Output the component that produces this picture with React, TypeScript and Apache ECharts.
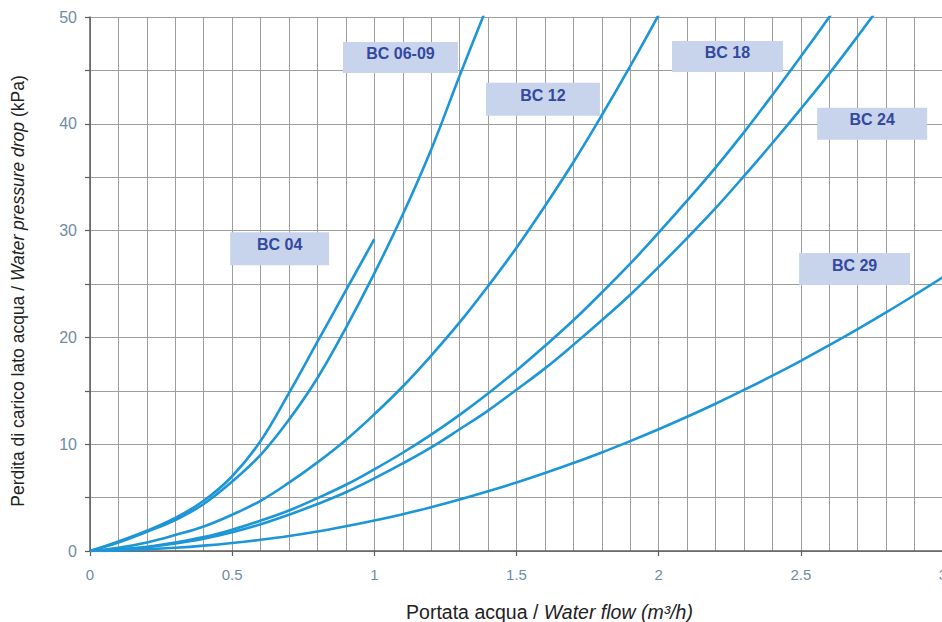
import React, { useEffect, useRef } from "react";
import * as echarts from "echarts";

// Water flow steps (m³/h) shared by every curve
const flowSteps = [
  0, 0.1, 0.2, 0.3, 0.4, 0.5, 0.6, 0.7, 0.8, 0.9, 1.0, 1.1, 1.2, 1.3, 1.4, 1.5,
  1.6, 1.7, 1.8, 1.9, 2.0, 2.1, 2.2, 2.3, 2.4, 2.5, 2.6, 2.7, 2.8, 2.9, 3.0,
];

// Pressure drop (kPa) for each unit, one value per flow step
const bc04 = [0, 0.9, 1.9, 3.1, 4.7, 7.0, 10.3, 14.8, 19.6, 24.4, 29.2];
const bc0609 = [0, 0.8, 1.8, 2.9, 4.4, 6.5, 9.0, 12.3, 16.2, 20.9, 26.0, 31.5, 37.6, 44.5, 51.2];
const bc12 = [
  0, 0.3, 0.8, 1.5, 2.3, 3.4, 4.7, 6.4, 8.3, 10.4, 12.8, 15.4, 18.3, 21.4, 24.8,
  28.4, 32.3, 36.4, 40.8, 45.4, 50.2, 55.3,
];
const bc18 = [
  0, 0.15, 0.4, 0.8, 1.3, 2.0, 2.85, 3.8, 4.95, 6.2, 7.65, 9.2, 10.9, 12.75, 14.75,
  16.9, 19.2, 21.6, 24.2, 26.9, 29.8, 32.8, 35.9, 39.2, 42.7, 46.3, 50.0, 53.9,
];
const bc24 = [
  0, 0.12, 0.35, 0.7, 1.15, 1.75, 2.5, 3.4, 4.4, 5.5, 6.8, 8.2, 9.7, 11.4, 13.15,
  15.1, 17.1, 19.3, 21.6, 24.0, 26.6, 29.3, 32.1, 35.1, 38.2, 41.4, 44.7, 48.2, 51.8,
];
const bc29 = [
  0, 0.05, 0.15, 0.3, 0.5, 0.75, 1.05, 1.4, 1.82, 2.31, 2.85, 3.45, 4.1, 4.82, 5.59,
  6.41, 7.3, 8.24, 9.23, 10.29, 11.4, 12.57, 13.79, 15.08, 16.42, 17.81, 19.27, 20.78,
  22.34, 23.97, 25.65,
];

const curveNames = ["BC 04", "BC 06-09", "BC 12", "BC 18", "BC 24", "BC 29"];
const curveValues = [bc04, bc0609, bc12, bc18, bc24, bc29];

// Tag anchors in data units: [flow, pressure drop]
const tagFlow = [0.667, 1.092, 1.593, 2.242, 2.751, 2.689];
const tagDrop = [28.3, 46.2, 42.3, 46.3, 40.0, 26.4];

const FONT = "'Liberation Sans', Arial, Helvetica, sans-serif";
const LINE_BLUE = "#1c96d6";
const GRID_GRAY = "#9d9d9d";
const AXIS_GRAY = "#5c5c5c";
const TICK_LABEL = "#6f8ca3";

export default function App() {
  const ref = useRef<HTMLDivElement>(null);

  useEffect(() => {
    if (!ref.current) return;
    const chart = echarts.init(ref.current, null, { renderer: "svg" });

    const lineSeries = curveNames.map((name, i) => ({
      name,
      type: "line",
      z: 3,
      smooth: 0.4,
      symbol: "none",
      clip: true,
      lineStyle: { color: LINE_BLUE, width: 2.6 },
      data: curveValues[i].map((v, k) => [flowSteps[k], v]),
    }));

    const tagSizes = [
      [99, 33],
      [115, 31],
      [114, 33],
      [111, 31],
      [110, 32],
      [111, 32],
    ];

    const tagSeries = {
      type: "scatter",
      z: 1,
      silent: true,
      symbol: "rect",
      data: curveNames.map((name, i) => ({
        name,
        value: [tagFlow[i], tagDrop[i]],
        symbolSize: tagSizes[i],
      })),
      itemStyle: { color: "#c8d4ec", opacity: 1 },
      label: {
        show: true,
        position: "inside",
        formatter: (p: any) => p.name,
        color: "#34489e",
        fontFamily: FONT,
        fontWeight: "bold",
        fontSize: 16,
        offset: [0, -4],
      },
    };

    chart.setOption({
      animation: false,
      backgroundColor: "#ffffff",
      grid: {
        left: 90,
        right: -1,
        top: 17,
        bottom: 71,
        containLabel: false,
        outerBoundsMode: "none",
      },
      xAxis: {
        type: "value",
        min: 0,
        max: 3,
        interval: 0.5,
        name: "{r|Portata acqua / }{i|Water flow (m³/h)}",
        nameLocation: "middle",
        nameGap: 51,
        nameTextStyle: {
          padding: [0, 0, 0, 66],
          rich: {
            r: { fontFamily: FONT, fontSize: 19.5, color: "#222" },
            i: { fontFamily: FONT, fontSize: 19.5, color: "#222", fontStyle: "italic" },
          },
        },
        axisLine: { show: true, lineStyle: { color: AXIS_GRAY, width: 1.5 } },
        axisTick: { show: true, length: 5, lineStyle: { color: AXIS_GRAY, width: 1.2 } },
        axisLabel: {
          margin: 16,
          fontFamily: FONT,
          fontSize: 15,
          color: TICK_LABEL,
          showMaxLabel: true,
        },
        splitLine: { show: true, lineStyle: { color: GRID_GRAY, width: 1 } },
        minorTick: { show: false, splitNumber: 5 },
        minorSplitLine: { show: true, lineStyle: { color: GRID_GRAY, width: 1 } },
      },
      yAxis: {
        type: "value",
        min: 0,
        max: 50,
        interval: 5,
        name: "{r|Perdita di carico lato acqua / }{i|Water pressure drop}{r| (kPa)}",
        nameLocation: "middle",
        nameGap: 63,
        nameRotate: 90,
        nameTextStyle: {
          padding: [0, 14, 0, 0],
          rich: {
            r: { fontFamily: FONT, fontSize: 17.5, color: "#222" },
            i: { fontFamily: FONT, fontSize: 17.5, color: "#222", fontStyle: "italic" },
          },
        },
        axisLine: { show: true, lineStyle: { color: AXIS_GRAY, width: 1.5 } },
        axisTick: { show: true, length: 5, lineStyle: { color: AXIS_GRAY, width: 1.2 } },
        axisLabel: {
          margin: 13,
          fontFamily: FONT,
          fontSize: 16,
          color: TICK_LABEL,
          formatter: (v: number) => (v % 10 === 0 ? String(v) : ""),
        },
        splitLine: { show: true, lineStyle: { color: GRID_GRAY, width: 1 } },
      },
      series: [tagSeries, ...lineSeries],
    });

    return () => chart.dispose();
  }, []);

  return (
    <div
      ref={ref}
      style={{ position: "fixed", left: 0, top: 0, width: 942, height: 622, background: "#fff" }}
    />
  );
}
